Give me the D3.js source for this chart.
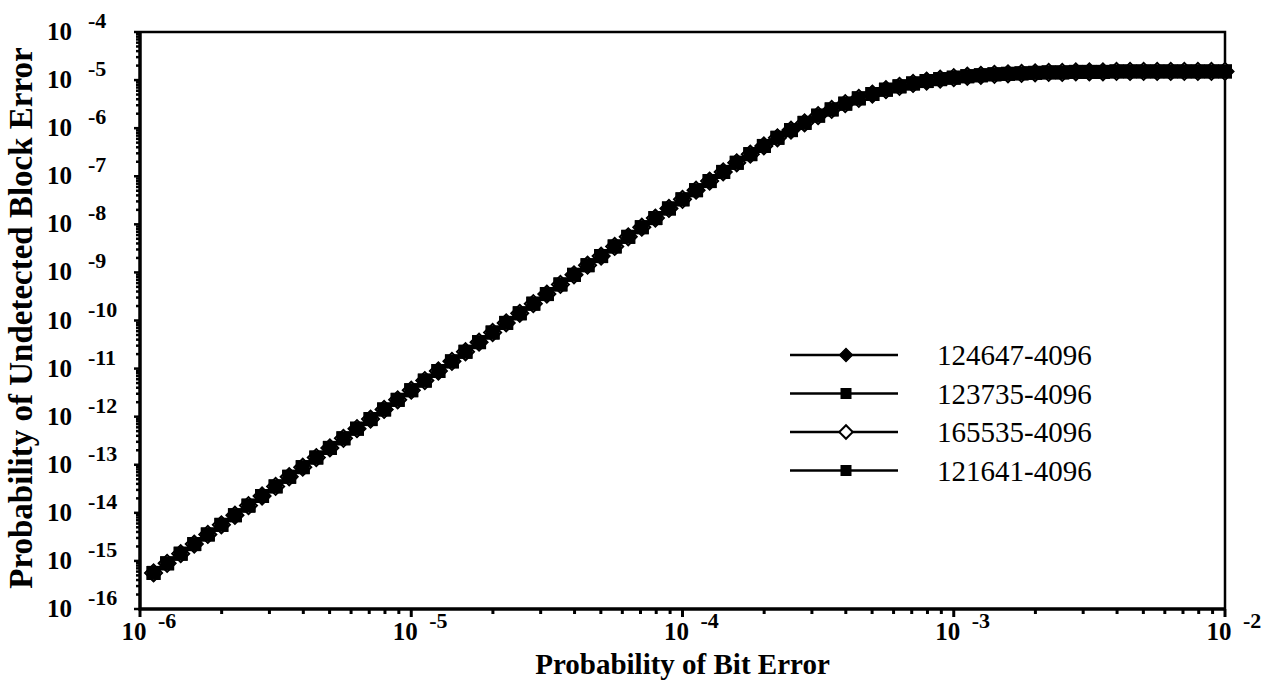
<!DOCTYPE html>
<html>
<head>
<meta charset="utf-8">
<script src="https://cdn.jsdelivr.net/npm/d3@7/dist/d3.min.js"></script>
<style>
  body { margin: 0; background: #fff; }
  text { font-family: "Liberation Serif", "Times New Roman", serif; fill: #000; }
</style>
</head>
<body>
<svg id="chart" width="1279" height="692"></svg>
<script>
// bit error probability, as log10 exponents (one marker each)
const berExp = [
  -5.95, -5.90, -5.85, -5.80, -5.75, -5.70, -5.65, -5.60, -5.55, -5.50,
  -5.45, -5.40, -5.35, -5.30, -5.25, -5.20, -5.15, -5.10, -5.05, -5.00,
  -4.95, -4.90, -4.85, -4.80, -4.75, -4.70, -4.65, -4.60, -4.55, -4.50,
  -4.45, -4.40, -4.35, -4.30, -4.25, -4.20, -4.15, -4.10, -4.05, -4.00,
  -3.95, -3.90, -3.85, -3.80, -3.75, -3.70, -3.65, -3.60, -3.55, -3.50,
  -3.45, -3.40, -3.35, -3.30, -3.25, -3.20, -3.15, -3.10, -3.05, -3.00,
  -2.95, -2.90, -2.85, -2.80, -2.75, -2.70, -2.65, -2.60, -2.55, -2.50,
  -2.45, -2.40, -2.35, -2.30, -2.25, -2.20, -2.15, -2.10, -2.05, -2.00
];

// undetected block error probability, log10 exponents, read per series
// (the four curves lie on top of each other in the picture)
const crc124647 = [
  -15.25, -15.05, -14.85, -14.65, -14.45, -14.25, -14.05, -13.85, -13.65, -13.45,
  -13.25, -13.05, -12.85, -12.65, -12.45, -12.25, -12.05, -11.85, -11.65, -11.45,
  -11.25, -11.05, -10.85, -10.65, -10.45, -10.25, -10.05, -9.85, -9.65, -9.45,
  -9.25, -9.05, -8.85, -8.66, -8.46, -8.26, -8.06, -7.87, -7.67, -7.48,
  -7.29, -7.10, -6.91, -6.72, -6.54, -6.37, -6.20, -6.04, -5.89, -5.74,
  -5.61, -5.49, -5.38, -5.29, -5.20, -5.13, -5.07, -5.02, -4.98, -4.95,
  -4.92, -4.90, -4.88, -4.87, -4.86, -4.85, -4.84, -4.84, -4.83, -4.83,
  -4.83, -4.82, -4.82, -4.82, -4.82, -4.82, -4.82, -4.82, -4.82, -4.82
];
const crc123735 = [
  -15.25, -15.05, -14.85, -14.65, -14.45, -14.25, -14.05, -13.85, -13.65, -13.45,
  -13.25, -13.05, -12.85, -12.65, -12.45, -12.25, -12.05, -11.85, -11.65, -11.45,
  -11.25, -11.05, -10.85, -10.65, -10.45, -10.25, -10.05, -9.85, -9.65, -9.45,
  -9.25, -9.05, -8.85, -8.66, -8.46, -8.26, -8.06, -7.87, -7.67, -7.48,
  -7.29, -7.10, -6.91, -6.72, -6.54, -6.37, -6.20, -6.04, -5.89, -5.74,
  -5.61, -5.49, -5.38, -5.29, -5.20, -5.13, -5.07, -5.02, -4.98, -4.95,
  -4.92, -4.90, -4.88, -4.87, -4.86, -4.85, -4.84, -4.84, -4.83, -4.83,
  -4.83, -4.82, -4.82, -4.82, -4.82, -4.82, -4.82, -4.82, -4.82, -4.82
];
const crc165535 = [
  -15.25, -15.05, -14.85, -14.65, -14.45, -14.25, -14.05, -13.85, -13.65, -13.45,
  -13.25, -13.05, -12.85, -12.65, -12.45, -12.25, -12.05, -11.85, -11.65, -11.45,
  -11.25, -11.05, -10.85, -10.65, -10.45, -10.25, -10.05, -9.85, -9.65, -9.45,
  -9.25, -9.05, -8.85, -8.66, -8.46, -8.26, -8.06, -7.87, -7.67, -7.48,
  -7.29, -7.10, -6.91, -6.72, -6.54, -6.37, -6.20, -6.04, -5.89, -5.74,
  -5.61, -5.49, -5.38, -5.29, -5.20, -5.13, -5.07, -5.02, -4.98, -4.95,
  -4.92, -4.90, -4.88, -4.87, -4.86, -4.85, -4.84, -4.84, -4.83, -4.83,
  -4.83, -4.82, -4.82, -4.82, -4.82, -4.82, -4.82, -4.82, -4.82, -4.82
];
const crc121641 = [
  -15.25, -15.05, -14.85, -14.65, -14.45, -14.25, -14.05, -13.85, -13.65, -13.45,
  -13.25, -13.05, -12.85, -12.65, -12.45, -12.25, -12.05, -11.85, -11.65, -11.45,
  -11.25, -11.05, -10.85, -10.65, -10.45, -10.25, -10.05, -9.85, -9.65, -9.45,
  -9.25, -9.05, -8.85, -8.66, -8.46, -8.26, -8.06, -7.87, -7.67, -7.48,
  -7.29, -7.10, -6.91, -6.72, -6.54, -6.37, -6.20, -6.04, -5.89, -5.74,
  -5.61, -5.49, -5.38, -5.29, -5.20, -5.13, -5.07, -5.02, -4.98, -4.95,
  -4.92, -4.90, -4.88, -4.87, -4.86, -4.85, -4.84, -4.84, -4.83, -4.83,
  -4.83, -4.82, -4.82, -4.82, -4.82, -4.82, -4.82, -4.82, -4.82, -4.82
];

const seriesNames = ["124647-4096", "123735-4096", "165535-4096", "121641-4096"];
const seriesValues = [crc124647, crc123735, crc165535, crc121641];
const seriesMarkers = ["diamond", "square", "openDiamond", "square"];

const xTickExps = [-6, -5, -4, -3, -2];
const yTickExps = [-4, -5, -6, -7, -8, -9, -10, -11, -12, -13, -14, -15, -16];

const svg = d3.select("#chart");
const plotL = 140, plotR = 1225, plotT = 32, plotB = 609;

const x = d3.scaleLog().domain([1e-6, 1e-2]).range([plotL, plotR]);
const y = d3.scaleLog().domain([1e-16, 1e-4]).range([plotB, plotT]);

const isDecade = (v) => Math.abs(Math.log10(v) - Math.round(Math.log10(v))) < 1e-9;

// frame: thin top and right, heavy left and bottom
svg.append("path")
  .attr("d", `M${plotL},${plotT}H${plotR}V${plotB}`)
  .attr("fill", "none").attr("stroke", "#000").attr("stroke-width", 2.5);
svg.append("path")
  .attr("d", `M${plotL},${plotT}V${plotB}H${plotR}`)
  .attr("fill", "none").attr("stroke", "#000").attr("stroke-width", 3.5);

// x ticks (down) - 1..9 per decade
svg.append("g").selectAll("line")
  .data(x.ticks(20))
  .join("line")
  .attr("x1", (d) => x(d)).attr("x2", (d) => x(d))
  .attr("y1", plotB).attr("y2", (d) => plotB + (isDecade(d) ? 8 : 5))
  .attr("stroke", "#000").attr("stroke-width", 3);

// y ticks (left)
svg.append("g").selectAll("line")
  .data(y.ticks(100))
  .join("line")
  .attr("y1", (d) => y(d)).attr("y2", (d) => y(d))
  .attr("x1", plotL).attr("x2", (d) => plotL - (isDecade(d) ? 6 : 4))
  .attr("stroke", "#000").attr("stroke-width", 2.5);

// y tick labels: 10 with raised exponent
const yLab = svg.append("g").selectAll("g")
  .data(yTickExps)
  .join("g")
  .attr("transform", (d) => `translate(0,${y(Math.pow(10, d))})`);
yLab.append("text")
  .attr("x", 72).attr("y", 8)
  .attr("text-anchor", "end")
  .style("font-size", "25px").style("font-weight", "bold")
  .text("10");
yLab.append("text")
  .attr("x", 88).attr("y", -4)
  .style("font-size", "22px").style("font-weight", "bold")
  .text((d) => "-" + Math.abs(d));

// x tick labels
const xLab = svg.append("g").selectAll("g")
  .data(xTickExps)
  .join("g")
  .attr("transform", (d) => `translate(${x(Math.pow(10, d))},${plotB})`);
xLab.append("text")
  .attr("x", -6).attr("y", 31)
  .attr("text-anchor", "middle")
  .style("font-size", "25px").style("font-weight", "bold")
  .text("10");
xLab.append("text")
  .attr("x", 18).attr("y", 19)
  .style("font-size", "22px").style("font-weight", "bold")
  .text((d) => "-" + Math.abs(d));

// axis titles
svg.append("text")
  .attr("x", (plotL + plotR) / 2).attr("y", 674)
  .attr("text-anchor", "middle")
  .style("font-size", "29px").style("font-weight", "bold")
  .text("Probability of Bit Error");
svg.append("text")
  .attr("transform", "translate(32,318) rotate(-90)")
  .attr("text-anchor", "middle")
  .style("font-size", "33px").style("font-weight", "bold")
  .text("Probability of Undetected Block Error");

// series
const line = d3.line()
  .x((d) => x(Math.pow(10, d.e)))
  .y((d) => y(Math.pow(10, d.v)));

function drawMarker(sel, kind, big) {
  const sq = big ? 14 : 11;
  const dm = big ? 12 : 9.5;
  if (kind === "square") {
    sel.append("path")
      .attr("d", d3.symbol(d3.symbolSquare, sq * sq)())
      .attr("fill", "#000");
  } else {
    sel.append("path")
      .attr("d", d3.symbol(d3.symbolSquare, dm * dm)())
      .attr("transform", "rotate(45)")
      .attr("fill", kind === "openDiamond" ? "#fff" : "#000")
      .attr("stroke", "#000")
      .attr("stroke-width", kind === "openDiamond" ? 2 : 1);
  }
}

seriesValues.forEach((vals, si) => {
  const pts = berExp.map((e, i) => ({ e, v: vals[i] }));
  const g = svg.append("g").attr("class", "series");
  g.append("path")
    .datum(pts)
    .attr("d", line)
    .attr("fill", "none").attr("stroke", "#000").attr("stroke-width", 2.5);
  g.selectAll("g.mk")
    .data(pts)
    .join("g")
    .attr("class", "mk")
    .attr("transform", (d) => `translate(${x(Math.pow(10, d.e))},${y(Math.pow(10, d.v))})`)
    .each(function () { drawMarker(d3.select(this), seriesMarkers[si], true); });
});

// legend
const legend = svg.append("g").selectAll("g")
  .data(seriesNames)
  .join("g")
  .attr("transform", (d, i) => `translate(790,${355 + i * 38.5})`);
legend.append("line")
  .attr("x1", 0).attr("x2", 108)
  .attr("stroke", "#000").attr("stroke-width", 2.5);
legend.append("g")
  .attr("transform", "translate(56,0)")
  .each(function (d, i) { drawMarker(d3.select(this), seriesMarkers[i], false); });
legend.append("text")
  .attr("x", 147).attr("y", 10)
  .style("font-size", "29px")
  .text((d) => d);
</script>
</body>
</html>
